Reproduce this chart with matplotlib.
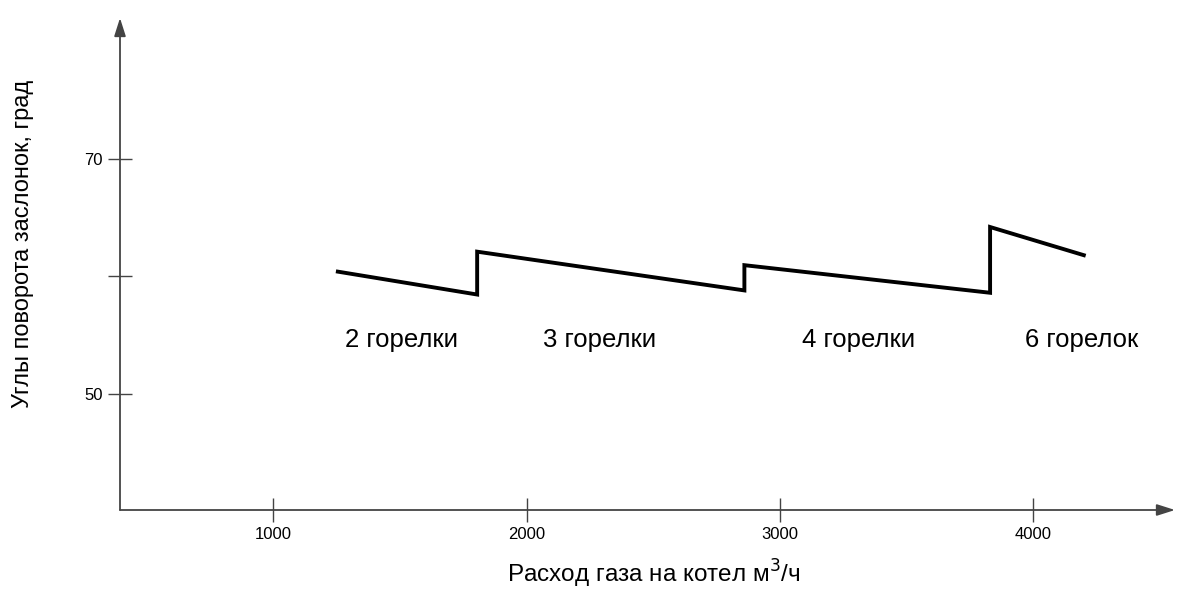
import matplotlib
matplotlib.use("Agg")
import matplotlib.pyplot as plt

plt.rcParams["font.family"] = ["Liberation Sans", "DejaVu Sans"]

# gas flow (m3/h) vs damper angle (deg), with vertical jumps at burner switches
flow = [1255, 1805, 1805, 2860, 2860, 3830, 3830, 4200]
angle = [60.4, 58.45, 62.1, 58.8, 60.95, 58.6, 64.2, 61.8]

zone_x = [1506, 2287, 3310, 4190]
zone_y = 54.6
zone_names = ["2 горелки", "3 горелки", "4 горелки", "6 горелок"]

xticks = [1000, 2000, 3000, 4000]
yticks = [50, 60, 70]
ytick_labels = ["50", "", "70"]

fig = plt.figure(figsize=(11.77, 5.92), dpi=100)
ax = fig.add_axes([120 / 1177, 82 / 592, 1055 / 1177, 492 / 592])
ax.set_xlim(395, 4560)
ax.set_ylim(40.1, 82)

ax.plot(flow, angle, color="black", lw=2.8, solid_joinstyle="miter")

for x, name in zip(zone_x, zone_names):
    ax.text(x, zone_y, name, ha="center", va="center", fontsize=18.5)

# axes drawn as arrows
for spine in ax.spines.values():
    spine.set_visible(False)
axis_col = "#444444"
ax.annotate("", xy=(1, 0), xytext=(0, 0), xycoords="axes fraction",
            arrowprops=dict(arrowstyle="-|>,head_length=1.1,head_width=0.35",
                            lw=1.3, color=axis_col, shrinkA=0, shrinkB=0))
ax.annotate("", xy=(0, 1), xytext=(0, 0), xycoords="axes fraction",
            arrowprops=dict(arrowstyle="-|>,head_length=1.1,head_width=0.35",
                            lw=1.3, color=axis_col, shrinkA=0, shrinkB=0))

ax.set_xticks(xticks)
ax.set_xticklabels([str(t) for t in xticks])
ax.set_yticks(yticks)
ax.set_yticklabels(ytick_labels)
ax.tick_params(direction="inout", length=17, width=1.0, color=axis_col,
               labelsize=12, pad=4)

fig.text(653.5 / 1177, 1 - 583 / 592, "Расход газа на котел м$^3$/ч",
         ha="center", va="baseline", fontsize=17.5)
fig.text(23 / 1177, 1 - 244 / 592, "Углы поворота заслонок, град",
         ha="center", va="center", rotation=90, fontsize=17)

fig.savefig("out.png", dpi=100)
